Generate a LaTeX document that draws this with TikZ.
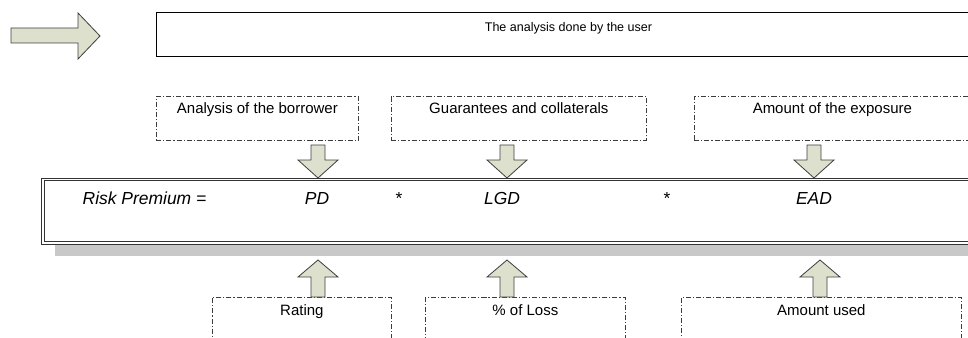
\documentclass[tikz,border=0pt]{standalone}
\usepackage{fontspec}
\setmainfont{Liberation Sans}
\usetikzlibrary{shadows}
\usetikzlibrary{positioning}
\usetikzlibrary{calc}

\definecolor{arrowfill}{RGB}{221,224,205}
\definecolor{arrowline}{RGB}{64,64,64}
\definecolor{boxline}{RGB}{60,60,60}
\definecolor{shadowgray}{RGB}{200,200,200}

\tikzstyle{blockarrow} = [draw=arrowline, fill=arrowfill, line width=0.7pt, line join=miter]
\tikzstyle{userbox} = [draw, line width=0.8pt, inner sep=0pt, anchor=north west,
  minimum height=1.32cm, text height=0.57cm, text depth=0.75cm,
  font=\fontsize{10.7}{12}\selectfont]
\tikzstyle{inputbox} = [draw=boxline, line width=0.6pt,
  dash pattern=on 4.3pt off 1.7pt on 0.9pt off 1.7pt,
  inner sep=0pt, anchor=north west, minimum height=1.32cm,
  text height=0.51cm, text depth=0.81cm, font=\fontsize{12.8}{15}\selectfont]
\tikzstyle{sourcebox} = [inputbox, text height=0.54cm, text depth=0.78cm]
\tikzstyle{formulabox} = [draw=black!80, fill=white, double=white, double distance=1.5pt, line width=0.9pt,
  anchor=north west, inner sep=0pt,
  drop shadow={shadow xshift=0.36cm, shadow yshift=-0.39cm, fill=shadowgray, opacity=1}]
\tikzstyle{formula} = [anchor=base, inner sep=0pt, font=\fontsize{14.9}{17}\selectfont\itshape]
\tikzstyle{times} = [anchor=base, inner sep=0pt, font=\fontsize{14.9}{17}\selectfont]

\tikzset{
  dnblock/.pic={\path[blockarrow] (0,0) -- (20,-18) -- (7,-18) -- (7,-33)
    -- (-7,-33) -- (-7,-18) -- (-20,-18) -- cycle;},
  upblock/.pic={\path[blockarrow] (0,0) -- (20,17) -- (7,17) -- (7,37)
    -- (-7,37) -- (-7,17) -- (-20,17) -- cycle;}
}

\begin{document}
\begin{tikzpicture}[x=0.03cm, y=-0.03cm]

 \useasboundingbox (0,0) rectangle (968,338);
 \clip (0,0) rectangle (968,338);

 % big arrow on the left
 \path[blockarrow] (11,28) -- (78,28) -- (78,13) -- (100,36) -- (78,59) -- (78,43) -- (11,43) -- cycle;

 \node[userbox, minimum width=24.72cm] (user) at (156,12) {The analysis done by the user};

 % what goes in
 \node[inputbox, minimum width=6.06cm] (borrower) at (156,96) {Analysis of the borrower};
 \node[inputbox, minimum width=7.65cm] (guarantees) at (391,96) {Guarantees and collaterals};
 \node[inputbox, minimum width=8.28cm] (exposure) at (694,96) {Amount of the exposure};

 % the formula
 \node[formulabox, minimum width=28.7cm, minimum height=1.9cm] (premium) at (42.5,179) {};
 \node[formula] (riskpremium) at (144.5,205) {Risk Premium =};
 \node[formula] (pd) at (317,205) {PD};
 \node[times] (times1) at (399,205) {*};
 \node[formula] (lgd) at (502,205) {LGD};
 \node[times] (times2) at (667,205) {*};
 \node[formula] (ead) at (814,205) {EAD};

 % what comes out
 \node[sourcebox, minimum width=5.37cm] (rating) at (212,297) {Rating};
 \node[sourcebox, minimum width=6cm] (loss) at (425,297) {\% of Loss};
 \node[sourcebox, minimum width=8.4cm] (used) at (681,297) {Amount used};

 \foreach \x in {318,507,814}
   \pic at (\x,178) {dnblock};
 \foreach \x in {318,507,820}
   \pic at (\x,260) {upblock};

\end{tikzpicture}
\end{document}
